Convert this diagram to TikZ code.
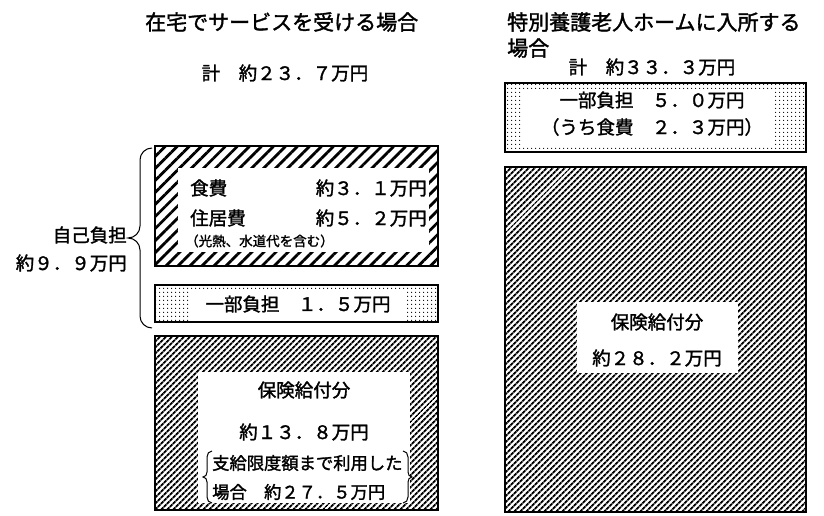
\documentclass[tikz,border=0pt]{standalone}
\usepackage{fontspec}
\setmainfont{Noto Sans CJK JP}[FakeBold=1.6]
\usetikzlibrary{patterns.meta}
\begin{document}
\begin{tikzpicture}[x=1pt,y=-1pt,
  frame/.style={draw=black,line width=1.3pt,inner sep=0pt,outer sep=0pt,anchor=north west},
  bighatch/.style={pattern={Lines[angle=45,distance=8.5pt,line width=2.8pt]}},
  finehatch/.style={pattern={Lines[angle=45,distance=4pt,line width=2pt]}},
  dotfill/.style={pattern={Dots[distance=4pt,radius=0.75pt]}},
  hole/.style={fill=white,inner sep=0pt,outer sep=0pt,anchor=north west},
  lbl/.style={font=\fontsize{18.5}{22}\selectfont,inner sep=0pt},
  lblsm/.style={font=\fontsize{17.3}{20}\selectfont,inner sep=0pt},
  ttl/.style={font=\fontsize{21}{24}\selectfont,inner sep=0pt},
  small/.style={font=\fontsize{13.5}{15}\selectfont,inner sep=0pt},
  bracket/.style={line width=1pt}
]
\useasboundingbox[fill=white] (0,0) rectangle (824,516);

% ---------- left column ----------
\node[ttl,anchor=west] (ttlL) at (145,22) {在宅でサービスを受ける場合};
\node[lbl] (sumL) at (285,73) {計　約２３．７万円};

\node[frame,bighatch,minimum width=283pt,minimum height=120pt] (foodbox) at (155,146) {};
\node[hole,minimum width=251pt,minimum height=84pt] (foodhole) at (178,168) {};
\node[lbl,anchor=west] (food) at (190,188) {食費};
\node[lbl,anchor=east] (foodv) at (427,188) {約３．１万円};
\node[lbl,anchor=west] (house) at (190,218) {住居費};
\node[lbl,anchor=east] (housev) at (427,218) {約５．２万円};
\node[small,anchor=west] (housenote) at (185,241) {（光熱、水道代を含む）};

\node[frame,dotfill,minimum width=283pt,minimum height=37pt] (copayL) at (155,285) {};
\node[hole,minimum width=215pt,minimum height=30pt] (copayLhole) at (191,291) {};
\node[lbl] (copayLt) at (298,304) {一部負担　１．５万円};

\node[frame,finehatch,minimum width=283pt,minimum height=174pt] (insL) at (155,336) {};
\node[hole,minimum width=212pt,minimum height=131pt] (insLhole) at (198,372) {};
\node[lbl] (insLt) at (304,390) {保険給付分};
\node[lbl] (insLv) at (304,432) {約１３．８万円};
\node[lblsm,anchor=west] (limit1) at (212,463) {支給限度額まで利用した};
\node[lblsm,anchor=west] (limit2) at (212,492) {場合　約２７．５万円};
\draw[bracket] (212,451) to[out=180,in=90] (207,457) -- (207,472) to[out=-90,in=0] (203,477)
  to[out=0,in=90] (207,482) -- (207,497) to[out=-90,in=180] (212,503);
\draw[bracket] (403,451) to[out=0,in=90] (408,457) -- (408,472) to[out=-90,in=180] (412,477)
  to[out=180,in=90] (408,482) -- (408,497) to[out=-90,in=0] (403,503);

% brace and self-pay label
\draw[line width=1pt] (152,148) to[out=180,in=90] (140,160) -- (140,226) to[out=-90,in=0] (128,238)
  to[out=0,in=90] (140,250) -- (140,316) to[out=-90,in=180] (152,328);
\node[lbl,anchor=east] (selfpay) at (127,235) {自己負担};
\node[lbl,anchor=east] (selfpayv) at (127,263) {約９．９万円};

% ---------- right column ----------
\node[ttl,anchor=west] (ttlR1) at (507,22) {特別養護老人ホームに入所する};
\node[ttl,anchor=west] (ttlR2) at (507,48) {場合};
\node[lbl] (sumR) at (652,67) {計　約３３．３万円};

\node[frame,dotfill,minimum width=301pt,minimum height=69pt] (copayR) at (505,83) {};
\node[hole,minimum width=252pt,minimum height=57pt] (copayRhole) at (523,89) {};
\node[lbl] (copayRt) at (652,100) {一部負担　５．０万円};
\node[lbl] (copayRs) at (652,127) {（うち食費　２．３万円）};

\node[frame,finehatch,minimum width=301pt,minimum height=345pt] (insR) at (505,167) {};
\node[hole,minimum width=161pt,minimum height=71pt] (insRhole) at (577,302) {};
\node[lbl] (insRt) at (657,322) {保険給付分};
\node[lbl] (insRv) at (657,358) {約２８．２万円};
\end{tikzpicture}
\end{document}
